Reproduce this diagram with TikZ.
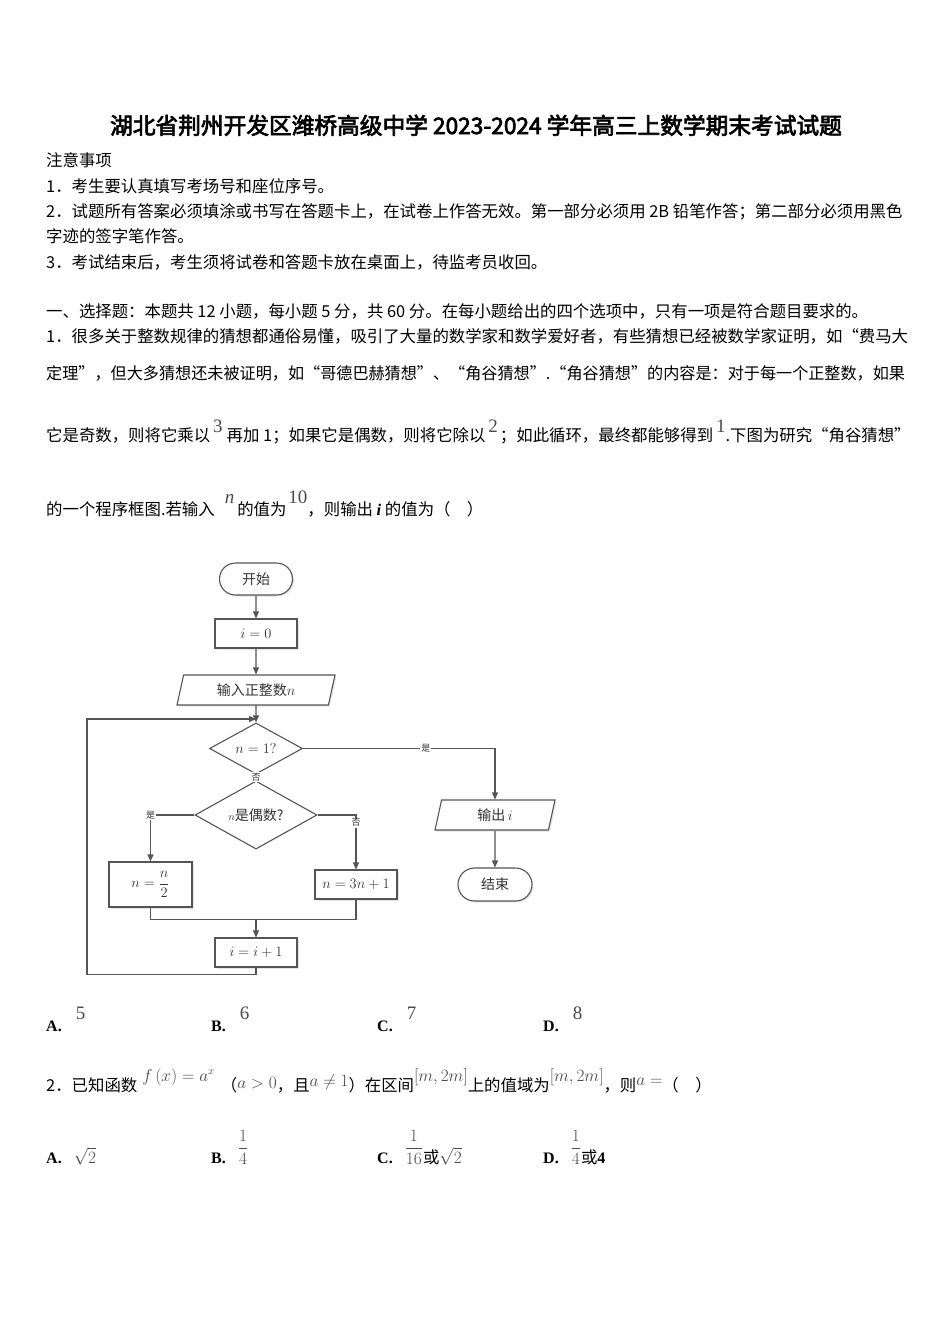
\documentclass[tikz,border=0pt]{standalone}
\usepackage{amsmath}
\usepackage{fontspec}
\setmainfont{Noto Sans CJK SC}
\newfontfamily\titlefont{Noto Sans CJK SC}[FakeBold=3]
\newfontfamily\tnr{Liberation Serif}
\usetikzlibrary{positioning,shapes.geometric,shapes.misc,arrows.meta,shadows}

\definecolor{linegray}{HTML}{555555}
\definecolor{inkgray}{HTML}{333333}
\definecolor{imggray}{HTML}{4A4A4A}

\newcommand\bodysize{\fontsize{16.4}{20}\selectfont}
\newcommand\rnum[2][9pt]{\raisebox{#1}{\tnr\fontsize{19}{19}\selectfont\color{imggray}#2}}
\newcommand\rmath[2][9pt]{\raisebox{#1}{\fontsize{16}{16}\selectfont\color{imggray}#2}}
\newcommand\rfrac[2]{\raisebox{10pt}{\fontsize{17}{17}\selectfont\color{imggray}$\dfrac{#1}{#2}$}}
\newcommand\cjkor{{\normalfont\bodysize 或}}

\tikzset{
  txt/.style={anchor=base west, inner sep=0pt, font=\bodysize},
  opt/.style={anchor=base west, inner sep=0pt, font=\tnr\bfseries\fontsize{16}{16}\selectfont},
  flow/.style={draw=linegray, line width=1.1pt},
  arr/.style={flow, -{Triangle[length=7pt,width=6pt]}},
  boxshadow/.style={drop shadow={opacity=0.2,shadow xshift=1.5pt,shadow yshift=-1.5pt}},
  fc/.style={font=\fontsize{14}{14}\selectfont, text=inkgray},
  proc/.style={flow, fc, rectangle, fill=white, boxshadow, inner sep=0pt, minimum width=82pt, minimum height=29pt},
  term/.style={flow, fc, rounded rectangle, fill=white, boxshadow, inner sep=0pt, minimum width=73pt, minimum height=32pt},
  io/.style={flow, fc, trapezium, trapezium left angle=63, trapezium right angle=117,
    trapezium stretches body, fill=white, boxshadow, inner sep=0pt, minimum width=158pt, minimum height=30pt},
  decision/.style={flow, fc, diamond, fill=white, inner sep=0pt},
  lab/.style={font=\fontsize{9}{9}\selectfont, text=inkgray, fill=white, inner sep=1pt}
}

\begin{document}
\begin{tikzpicture}[x=1pt, y=-1pt]
\useasboundingbox (0,0) rectangle (950,1344);
\fill[white] (0,0) rectangle (950,1344);

\node[anchor=base, inner sep=0pt, font=\titlefont\fontsize{22.7}{24}\selectfont] (title) at (476,134)
  {湖北省荆州开发区潍桥高级中学 2023-2024 学年高三上数学期末考试试题};

\node[txt] (note) at (46,166) {注意事项};
\node[txt] (rule1) at (46,192) {1．考生要认真填写考场号和座位序号。};
\node[txt] (rule2) at (46,217) {2．试题所有答案必须填涂或书写在答题卡上，在试卷上作答无效。第一部分必须用 2B 铅笔作答；第二部分必须用黑色};
\node[txt] (rule2b) at (46,242) {字迹的签字笔作答。};
\node[txt] (rule3) at (46,268) {3．考试结束后，考生须将试卷和答题卡放在桌面上，待监考员收回。};

\node[txt] (part1) at (46,317) {一、选择题：本题共 12 小题，每小题 5 分，共 60 分。在每小题给出的四个选项中，只有一项是符合题目要求的。};
\node[txt] (q1a) at (46,342) {1．很多关于整数规律的猜想都通俗易懂，吸引了大量的数学家和数学爱好者，有些猜想已经被数学家证明，如“费马大};
\node[txt] (q1b) at (46,379) {\scalebox{0.983}[1]{定理”，但大多猜想还未被证明，如“哥德巴赫猜想”、“角谷猜想”.“角谷猜想”的内容是：对于每一个正整数，如果}};
\node[txt] (q1c) at (46,441) {它是奇数，则将它乘以\hspace{3pt}\rnum{3}\hspace{4pt}再加 1；如果它是偶数，则将它除以\hspace{3pt}\rnum{2}\hspace{2pt}；如此循环，最终都能够得到\hspace{3pt}\rnum{1}.下图为研究“角谷猜想”};
\node[txt] (q1d) at (46,515) {的一个程序框图.若输入\hspace{10pt}\rnum[12pt]{\itshape n}\hspace{3pt}的值为\hspace{2pt}\rnum[12pt]{10}，则输出 {\tnr\bfseries\itshape i} 的值为（\quad）};

% flowchart
\node[term] (start) at (256,579) {开始};
\node[proc] (init) at (256,633.5) {$i=0$};
\node[io] (input) at (256,690) {输入正整数$n$};
\node[decision, minimum width=93pt, minimum height=35pt] (d1) at (256,748.5) {$n=1?$};
\node[decision, minimum width=122pt, minimum height=42pt] (d2) at (256,815) {{\fontsize{11}{11}\selectfont$n$}是偶数?};
\node[proc, minimum width=83pt, minimum height=45pt] (nhalf) at (150.5,884.5) {$n=\dfrac{n}{2}$};
\node[proc] (n3) at (356,884.5) {$n=3n+1$};
\node[proc] (inc) at (256,952.5) {$i=i+1$};
\node[io, minimum width=120pt] (out) at (495,815) {输出\,$i$};
\node[term, minimum width=74pt, minimum height=33pt] (stop) at (495,884.5) {结束};

\coordinate (join) at (256,719);
\coordinate (merge) at (256,919);

\draw[arr] (start) -- (init);
\draw[arr] (init) -- (input);
\draw[arr] (input) -- (d1);
\draw[arr] (inc.south) -- ++(0,7) -| (87,719) -- (join);
\draw[arr] (d1.east) -| node[lab, pos=0.32] {是} (out.north);
\draw[arr] (d1.south) -- node[lab, pos=0.45] {否} (d2.north);
\draw[arr] (d2.west) -| node[lab, pos=0.5] {是} (nhalf.north);
\draw[arr] (d2.east) -| node[lab, pos=0.57] {否} (n3.north);
\draw[flow] (nhalf.south) -- ++(0,12) -| (n3.south);
\draw[arr] (merge) -- (inc.north);
\draw[arr] (out) -- (stop);

\node[opt] (q1A) at (46,1031) {A.\hspace{14pt}\rnum[12pt]{\mdseries 5}};
\node[opt] (q1B) at (211,1031) {B.\hspace{14pt}\rnum[12pt]{\mdseries 6}};
\node[opt] (q1C) at (377,1031) {C.\hspace{14pt}\rnum[12pt]{\mdseries 7}};
\node[opt] (q1D) at (543,1031) {D.\hspace{14pt}\rnum[12pt]{\mdseries 8}};

\node[txt] (q2) at (46,1091) {2．已知函数\hspace{5pt}\rmath[10pt]{$f\,(x)=a^{x}$}\hspace{6pt}（\rmath[3pt]{$a>0$}，且\rmath[5pt]{$a\neq1$}）在区间\rmath[10pt]{$[m,2m]$}上的值域为\rmath[10pt]{$[m,2m]$}，则\rmath[6pt]{$a=$}（\quad）};

\node[opt] (q2A) at (46,1163) {A.\hspace{12pt}\rmath[0pt]{$\sqrt{2}$}};
\node[opt] (q2B) at (211,1163) {B.\hspace{12pt}\rfrac{1}{4}};
\node[opt] (q2C) at (377,1163) {C.\hspace{12pt}\rfrac{1}{16}\cjkor\rmath[0pt]{$\sqrt{2}$}};
\node[opt] (q2D) at (543,1163) {D.\hspace{12pt}\rfrac{1}{4}\cjkor 4};
\end{tikzpicture}
\end{document}
